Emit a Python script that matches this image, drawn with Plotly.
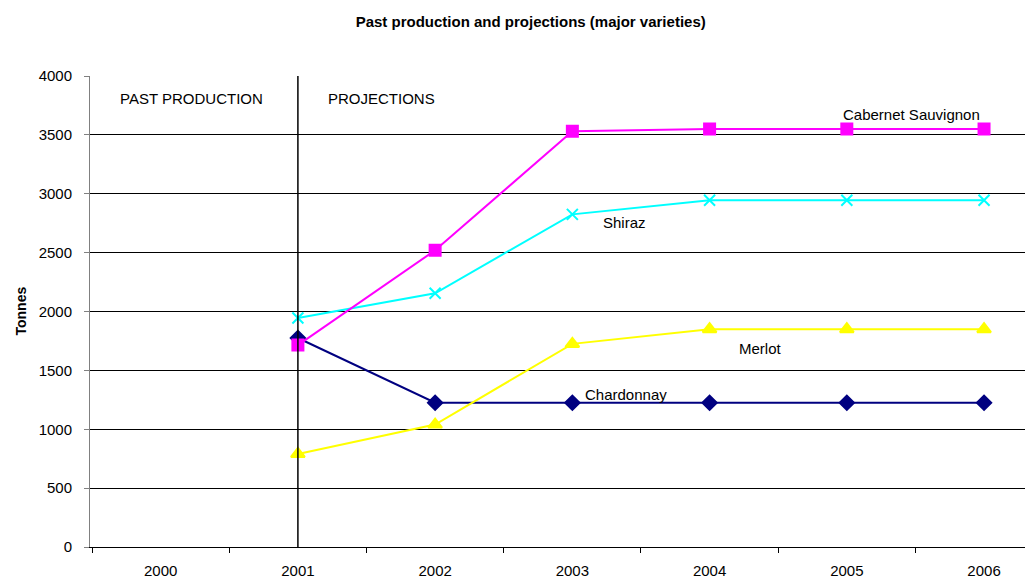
import plotly.graph_objects as go

years = ["2000", "2001", "2002", "2003", "2004", "2005", "2006"]
cabernet = [None, 1715, 2520, 3530, 3550, 3550, 3550]
shiraz = [None, 1945, 2155, 2825, 2945, 2945, 2945]
merlot = [None, 790, 1040, 1725, 1850, 1850, 1850]
chardonnay = [None, 1775, 1225, 1225, 1225, 1225, 1225]

FONT = "Liberation Sans, Arial, sans-serif"

fig = go.Figure()
series = [
    ("Chardonnay", chardonnay, "#000080", "diamond", 11),
    ("Merlot", merlot, "#FFFF00", "triangle-up", 12),
    ("Shiraz", shiraz, "#00FFFF", "x-thin-open", 11),
    ("Cabernet Sauvignon", cabernet, "#FF00FF", "square", 11),
]
for name, vals, col, sym, sz in series:
    fig.add_trace(go.Scatter(
        x=years, y=vals, name=name, mode="lines+markers",
        line=dict(color=col, width=2),
        marker=dict(symbol=sym, size=sz, color=col,
                    line=dict(color=col, width=2)),
        connectgaps=False, showlegend=False,
    ))

fig.add_shape(type="line", xref="x", yref="paper", x0=1, x1=1,
              y0=0, y1=1, line=dict(color="black", width=1.5), layer="above")

for txt, x, y in [("PAST PRODUCTION", -0.31, 3805), ("PROJECTIONS", 1.203, 3805)]:
    fig.add_annotation(x=x, y=y, text=txt, showarrow=False, xref="x", yref="y",
                       xanchor="left", font=dict(family=FONT, size=15, color="black"))

labels = [
    ("Cabernet Sauvignon", 5.47, 3669),
    ("Shiraz", 3.38, 2752),
    ("Merlot", 4.37, 1682),
    ("Chardonnay", 3.39, 1291),
]
for txt, x, y in labels:
    fig.add_annotation(x=x, y=y, text=txt, showarrow=False, xref="x", yref="y",
                       xanchor="center", font=dict(family=FONT, size=15, color="black"))

fig.add_annotation(x=-0.0736, y=0.5, xref="paper", yref="paper", text="<b>Tonnes</b>",
                   textangle=-90, showarrow=False, xanchor="center", yanchor="middle",
                   font=dict(family=FONT, size=14, color="black"))

fig.update_layout(
    width=1033, height=577,
    margin=dict(l=82, r=0, t=68, b=38),
    paper_bgcolor="white", plot_bgcolor="white",
    title=dict(text="<b>Past production and projections (major varieties)</b>",
               x=0.506, xanchor="center", y=0.977, yanchor="middle",
               font=dict(family=FONT, size=15, color="black")),
    font=dict(family=FONT, size=15, color="black"),
)
fig.update_xaxes(
    type="category", range=[-0.515, 6.415], tickson="boundaries",
    ticks="outside", ticklen=5, tickcolor="black",
    showline=True, linecolor="black", linewidth=1,
    showgrid=False, zeroline=False, automargin=False,
    ticklabelstandoff=10,
    tickfont=dict(family=FONT, size=15, color="black"),
)
fig.update_yaxes(
    range=[0, 4000], dtick=500, tickmode="linear",
    ticks="outside", ticklen=5, tickcolor="#808080",
    showline=True, linecolor="#808080", linewidth=1,
    showgrid=True, gridcolor="black", gridwidth=1,
    zeroline=False, automargin=False,
    ticklabelstandoff=9,
    tickfont=dict(family=FONT, size=15, color="black"),
)

fig.write_html("out.html")
